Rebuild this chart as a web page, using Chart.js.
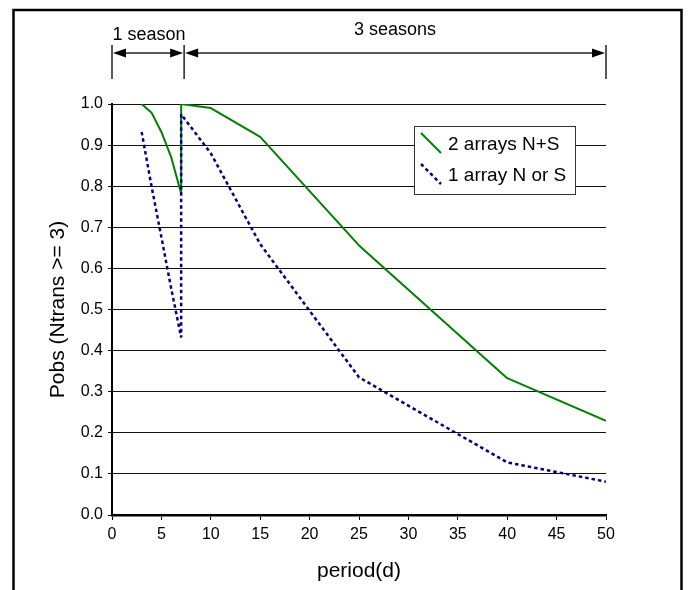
<!DOCTYPE html>
<html>
<head>
<meta charset="utf-8">
<script src="https://cdn.jsdelivr.net/npm/chart.js@4.4.0/dist/chart.umd.min.js"></script>
<style>
  html, body { margin: 0; padding: 0; background: #fff; }
  #wrap { width: 693px; height: 590px; }
</style>
</head>
<body>
<div id="wrap"><canvas id="pobsChart" width="693" height="590"></canvas></div>
<script>
// values
const periodsTwo = [3, 4, 5, 6, 7, 7, 10, 15, 25, 40, 50];
const pobsTwo = [1.0, 0.979, 0.932, 0.87, 0.782, 1.0, 0.99, 0.92, 0.656, 0.333, 0.229];

const periodsOne = [3, 4, 5, 6, 7, 7, 10, 15, 20, 25, 40, 50];
const pobsOne = [0.932, 0.80, 0.676, 0.55, 0.432, 0.975, 0.88, 0.659, 0.497, 0.335, 0.128, 0.081];

const seriesLabels = ['2 arrays N+S', '1 array N or S'];
const seasonBounds = [0, 7.3, 50];
const seasonLabels = ['1 season', '3 seasons'];

const FONT = '"Liberation Sans", Arial, Helvetica, sans-serif';

function toPoints(xs, ys) {
  return xs.map((x, i) => ({ x: x, y: ys[i] }));
}

function arrowHead(ctx, x, y, dir) {
  ctx.beginPath();
  ctx.moveTo(x, y);
  ctx.lineTo(x - dir * 13, y - 4.5);
  ctx.lineTo(x - dir * 13, y + 4.5);
  ctx.closePath();
  ctx.fill();
}

const decorPlugin = {
  id: 'decor',
  afterDraw(chart) {
    const ctx = chart.ctx;
    const xs = chart.scales.x;
    ctx.save();

    // outer frame
    ctx.strokeStyle = '#000';
    ctx.lineWidth = 2.5;
    ctx.strokeRect(13.5, 10, 668, 620);

    // season markers above the plot
    const px = seasonBounds.map(v => xs.getPixelForValue(v));
    ctx.strokeStyle = '#222';
    ctx.fillStyle = '#000';
    ctx.lineWidth = 1.5;
    px.forEach(p => {
      ctx.beginPath();
      ctx.moveTo(p, 45);
      ctx.lineTo(p, 79);
      ctx.stroke();
    });
    const arrowY = 53;
    for (let i = 0; i < px.length - 1; i++) {
      const a = px[i] + 1, b = px[i + 1] - 1;
      ctx.beginPath();
      ctx.moveTo(a + 8, arrowY);
      ctx.lineTo(b - 8, arrowY);
      ctx.stroke();
      arrowHead(ctx, a, arrowY, -1);
      arrowHead(ctx, b, arrowY, 1);
    }
    ctx.font = '18px ' + FONT;
    ctx.textAlign = 'center';
    ctx.textBaseline = 'alphabetic';
    ctx.fillText(seasonLabels[0], (px[0] + px[1]) / 2 + 1, 40);
    ctx.fillText(seasonLabels[1], (px[1] + px[2]) / 2, 35);

    // legend box
    const lx = 414, ly = 126, lw = 161, lh = 68;
    ctx.fillStyle = '#fff';
    ctx.fillRect(lx, ly, lw, lh);
    ctx.strokeStyle = '#333';
    ctx.lineWidth = 1;
    ctx.strokeRect(lx + 0.5, ly + 0.5, lw, lh);
    chart.data.datasets.slice().sort((a, b) => a.legendIndex - b.legendIndex).forEach((ds, i) => {
      const rowY = ly + 19 + i * 31;
      ctx.strokeStyle = ds.borderColor;
      ctx.lineWidth = ds.borderWidth;
      ctx.setLineDash(ds.borderDash || []);
      ctx.beginPath();
      ctx.moveTo(lx + 7, rowY - 12);
      ctx.lineTo(lx + 27, rowY + 8);
      ctx.stroke();
      ctx.setLineDash([]);
      ctx.fillStyle = '#000';
      ctx.font = '19px ' + FONT;
      ctx.textAlign = 'left';
      ctx.textBaseline = 'middle';
      ctx.fillText(ds.label, lx + 34, rowY);
    });
    ctx.restore();
  }
};

new Chart(document.getElementById('pobsChart'), {
  type: 'line',
  data: {
    datasets: [
      {
        label: seriesLabels[1],
        legendIndex: 1,
        data: toPoints(periodsOne, pobsOne),
        borderColor: '#000080',
        borderWidth: 2.5,
        borderDash: [3.5, 3],
        borderJoinStyle: 'bevel',
        pointRadius: 0,
        tension: 0,
        order: 0
      },
      {
        label: seriesLabels[0],
        legendIndex: 0,
        data: toPoints(periodsTwo, pobsTwo),
        borderColor: '#008000',
        borderWidth: 2,
        borderJoinStyle: 'bevel',
        pointRadius: 0,
        tension: 0,
        order: 1
      }
    ]
  },
  options: {
    responsive: false,
    animation: false,
    layout: { padding: { top: 104, right: 87, bottom: 0, left: 0 } },
    scales: {
      x: {
        type: 'linear',
        min: 0,
        max: 50,
        afterFit: scale => { scale.height = 75; },
        border: { color: '#000', width: 2.5 },
        grid: { drawOnChartArea: false, drawTicks: true, tickLength: 5, color: '#000' },
        ticks: { stepSize: 5, color: '#000', padding: 5, font: { family: FONT, size: 16 } },
        title: {
          display: true,
          text: 'period(d)',
          color: '#000',
          padding: { top: 6, bottom: 6 },
          font: { family: FONT, size: 21 }
        }
      },
      y: {
        min: 0,
        max: 1,
        afterFit: scale => { scale.width = 112; },
        border: { color: '#000', width: 2 },
        grid: { color: '#111', lineWidth: 1, drawTicks: true, tickLength: 4 },
        ticks: {
          stepSize: 0.1,
          color: '#000',
          padding: 5,
          font: { family: FONT, size: 16 },
          callback: v => v.toFixed(1)
        },
        title: {
          display: true,
          text: 'Pobs (Ntrans >= 3)',
          color: '#000',
          padding: { top: 46, bottom: 0 },
          font: { family: FONT, size: 21 }
        }
      }
    },
    plugins: {
      legend: { display: false },
      tooltip: { enabled: false }
    }
  },
  plugins: [decorPlugin]
});
</script>
</body>
</html>
